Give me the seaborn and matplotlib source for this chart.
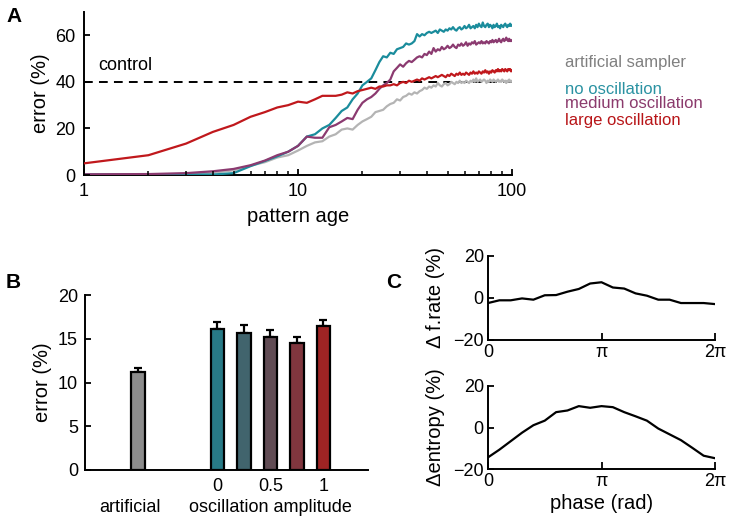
import numpy as np
import pandas as pd
import matplotlib
matplotlib.use("Agg")
import matplotlib.pyplot as plt
import matplotlib.transforms as mtransforms
from matplotlib.ticker import NullFormatter, FixedLocator
import seaborn as sns

sns.set_style("ticks")
plt.rcParams['font.family'] = ['Liberation Sans', 'DejaVu Sans']
plt.rcParams['font.size'] = 12
plt.rcParams['text.color'] = 'black'
plt.rcParams['axes.labelcolor'] = 'black'
plt.rcParams['xtick.labelcolor'] = 'black'
plt.rcParams['ytick.labelcolor'] = 'black'
plt.rcParams['axes.linewidth'] = 1.4
plt.rcParams['axes.axisbelow'] = False
plt.rcParams['axes.edgecolor'] = 'black'

# ---------------- Panel A data ----------------
pattern_age = list(range(1, 101))

no_oscillation = [
    0.2, 0.2, 0.2, 0.2, 0.8, 3.8, 6.0, 8.0, 10.0, 12.5,
    16.5, 17.5, 20.0, 21.5, 24.5, 27.5, 29.0, 32.5, 35.0, 38.5,
    40.0, 41.5, 45.0, 48.5, 51.0, 50.5, 52.5, 52.0, 54.0, 54.5,
    55.0, 56.5, 56.0, 56.5, 57.5, 60.5, 59.5, 60.5, 60.0, 61.0,
    61.5, 61.0, 61.5, 62.0, 61.0, 62.5, 62.0, 61.5, 62.5, 62.0,
    63.0, 62.5, 63.5, 62.5, 62.0, 63.0, 63.5, 62.5, 63.0, 64.0,
    63.0, 63.5, 64.5, 63.0, 63.5, 64.0, 63.0, 64.5, 63.5, 65.0,
    64.0, 63.5, 65.5, 64.0, 63.5, 64.5, 65.0, 63.5, 64.5, 64.0,
    63.0, 64.5, 63.5, 64.0, 65.0, 63.5, 64.0, 63.0, 64.5, 64.0,
    63.5, 64.5, 65.0, 64.0, 63.5, 64.5, 64.0, 65.0, 64.0, 64.5]

medium_oscillation = [
    0.3, 0.4, 0.8, 1.6, 2.6, 4.2, 6.2, 8.5, 10.0, 12.5,
    16.5, 16.0, 16.0, 20.5, 21.5, 23.0, 24.5, 24.0, 28.0, 31.0,
    32.5, 33.5, 35.0, 37.0, 38.5, 39.5, 41.0, 44.5, 46.0, 47.5,
    46.5, 48.0, 49.0, 48.5, 49.5, 50.5, 51.0, 50.5, 52.0, 51.5,
    53.0, 52.0, 54.5, 53.0, 54.0, 53.5, 55.0, 54.0, 54.5, 55.5,
    54.5, 55.0, 56.0, 55.0, 54.5, 56.0, 55.5, 56.5, 55.5, 56.0,
    57.0, 55.5, 56.5, 56.0, 57.0, 56.5, 57.5, 56.0, 56.5, 57.0,
    56.5, 57.5, 56.5, 57.0, 56.5, 57.5, 57.0, 56.5, 57.5, 57.0,
    58.0, 57.0, 57.5, 58.0, 57.0, 57.5, 58.5, 57.5, 57.0, 58.0,
    58.5, 57.5, 58.0, 59.0, 58.0, 57.5, 58.5, 57.5, 58.0, 57.5]

large_oscillation = [
    5.0, 8.5, 13.5, 18.5, 21.5, 25.0, 27.0, 29.0, 30.0, 31.5,
    31.0, 32.5, 34.0, 34.0, 34.0, 34.5, 35.5, 35.0, 36.0, 36.5,
    37.0, 37.5, 37.0, 38.0, 38.0, 38.5, 38.5, 39.0, 38.5, 39.5,
    40.0, 39.5, 40.5, 40.0, 40.5, 41.0, 40.5, 41.5, 41.0, 41.5,
    42.0, 41.5, 42.0, 42.5, 42.0, 42.5, 43.0, 42.5, 42.0, 43.0,
    42.5, 43.5, 43.0, 42.5, 43.5, 43.0, 44.0, 43.0, 43.5, 43.0,
    44.0, 43.5, 43.0, 44.0, 43.5, 44.5, 43.5, 44.0, 43.5, 44.5,
    44.0, 43.5, 44.5, 44.0, 45.0, 44.0, 44.5, 43.5, 44.5, 44.0,
    45.0, 44.5, 44.0, 45.0, 44.5, 45.5, 44.5, 45.0, 44.5, 45.5,
    45.0, 44.5, 45.5, 45.0, 44.5, 45.5, 45.0, 45.5, 44.5, 45.0]

artificial_sampler = [
    0.1, 0.2, 0.5, 1.0, 2.0, 4.0, 5.5, 7.5, 8.5, 10.5,
    12.5, 14.0, 14.5, 16.5, 17.5, 19.5, 20.0, 19.5, 21.5, 23.0,
    24.0, 25.0, 27.0, 27.5, 28.0, 29.5, 30.5, 31.0, 32.5, 32.0,
    33.5, 34.0, 35.0, 34.5, 35.5, 35.0, 36.0, 36.5, 37.5, 37.0,
    38.0, 37.5, 38.5, 38.0, 39.5, 38.5, 38.0, 39.0, 39.5, 38.5,
    39.0, 40.0, 39.5, 39.0, 40.0, 39.5, 40.5, 39.5, 40.0, 39.5,
    40.5, 40.0, 39.5, 40.5, 40.0, 41.0, 40.0, 41.5, 40.0, 40.5,
    41.0, 40.0, 40.5, 41.0, 40.5, 39.5, 40.5, 40.0, 41.0, 40.5,
    40.0, 41.0, 40.5, 40.0, 40.5, 41.0, 40.0, 40.5, 40.0, 41.0,
    40.5, 40.0, 40.5, 39.5, 40.5, 40.0, 41.0, 40.0, 40.5, 40.0]

control_level = 40
age_ticks = [1, 10, 100]
minor_age_ticks = [2, 3, 4, 5, 6, 7, 8, 9, 20, 30, 40, 50, 60, 70, 80, 90]
errA_ticks = [0, 20, 40, 60]

# ---------------- Panel B data ----------------
bar_labels = ["artificial", "0", "0.25", "0.5", "0.75", "1"]
bar_pos = [-0.75, 0.0, 0.25, 0.5, 0.75, 1.0]
bar_values = [11.2, 16.1, 15.7, 15.2, 14.5, 16.5]
bar_errors = [0.5, 0.8, 0.85, 0.8, 0.75, 0.65]
bar_colors = ["#8c8c8c", "#188696", "#3a6874", "#644854", "#8c2a34", "#b21010"]
errB_ticks = [0, 5, 10, 15, 20]

# ---------------- Panel C data ----------------
phase_idx = list(range(21))  # phase = idx * 2*pi/20
frate_change = [-2.4, -1.1, -1.1, -0.2, -0.8, 1.3, 1.4, 3.0, 4.3, 6.9, 7.5,
                5.0, 4.5, 2.2, 1.1, -0.8, -0.8, -2.4, -2.4, -2.4, -2.9]
entropy_change = [-14.4, -10.7, -6.6, -2.5, 1.1, 3.3, 7.4, 8.2, 10.3, 9.5, 10.3,
                  9.8, 7.4, 5.4, 3.3, -0.5, -3.3, -6.1, -9.8, -13.6, -14.8]
phase_ticks = [0, np.pi, 2 * np.pi]
delta_ticks = [-20, 0, 20]

line_colors = {"artificial sampler": "#b4b4b4", "no oscillation": "#1a8c9c",
               "medium oscillation": "#8b3a70", "large oscillation": "#c0181c"}
text_colors = {"artificial sampler": "#808080", "no oscillation": "#2a92a2",
               "medium oscillation": "#8b3a6c", "large oscillation": "#b81518"}

TICK_FS = 13
LABEL_FS = 14.5

W, H = 730, 523
fig = plt.figure(figsize=(W / 100, H / 100), dpi=100)

def fbox(l, t, r, b):
    return [l / W, 1 - b / H, (r - l) / W, (b - t) / H]

def inward_ticks(ax, xt, yt, xlen_px, ylen_px, wpx, xminor=None, minor_len_px=4):
    """Draw inward tick marks explicitly (axes-fraction lengths)."""
    bbox = ax.get_position()
    ax_w = bbox.width * W
    ax_h = bbox.height * H
    tx = mtransforms.blended_transform_factory(ax.transData, ax.transAxes)
    ty = mtransforms.blended_transform_factory(ax.transAxes, ax.transData)
    if xt:
        ax.vlines(xt, 0, xlen_px / ax_h, transform=tx, colors="black",
                  linewidth=wpx, clip_on=False, zorder=6)
    if xminor:
        ax.vlines(xminor, 0, minor_len_px / ax_h, transform=tx, colors="black",
                  linewidth=wpx * 0.85, clip_on=False, zorder=6)
    if yt:
        ax.hlines(yt, 0, ylen_px / ax_w, transform=ty, colors="black",
                  linewidth=wpx, clip_on=False, zorder=6)
    ax.tick_params(axis="both", which="both", length=0, labelsize=TICK_FS,
                   labelcolor="black")

# ---------------- Panel A ----------------
axA = fig.add_axes(fbox(84, 12, 512, 175))
dfA = pd.DataFrame({
    "age": pattern_age * 4,
    "error": artificial_sampler + no_oscillation + medium_oscillation + large_oscillation,
    "series": (["artificial sampler"] * 100 + ["no oscillation"] * 100 +
               ["medium oscillation"] * 100 + ["large oscillation"] * 100),
})
axA.axhline(control_level, color="black", ls=(0, (4.5, 3.2)), lw=1.4, zorder=1)
sns.lineplot(data=dfA, x="age", y="error", hue="series", palette=line_colors,
             hue_order=["artificial sampler", "no oscillation", "medium oscillation", "large oscillation"],
             lw=1.6, ax=axA, legend=False, zorder=3)
axA.set_xscale("log")
axA.set_xlim(1, 100)
axA.set_ylim(0, 70)
axA.set_yticks(errA_ticks)
axA.set_xticks(age_ticks)
axA.set_xticklabels([str(a) for a in age_ticks])
axA.xaxis.set_minor_locator(FixedLocator(minor_age_ticks))
axA.xaxis.set_minor_formatter(NullFormatter())
sns.despine(ax=axA)
inward_ticks(axA, age_ticks, errA_ticks, 6, 6, 1.3, xminor=minor_age_ticks, minor_len_px=4)
axA.tick_params(axis="both", which="major", pad=6)
axA.set_xlabel("pattern age", fontsize=LABEL_FS, labelpad=5)
axA.set_ylabel("error (%)", fontsize=LABEL_FS, labelpad=4)
axA.text(1.16, 47, "control", fontsize=13, va="center", ha="left")
for name, y in [("artificial sampler", 63), ("no oscillation", 89),
                ("medium oscillation", 104), ("large oscillation", 120)]:
    fig.text(565 / W, 1 - y / H, name, color=text_colors[name], fontsize=12,
             va="center", ha="left")

# ---------------- Panel B ----------------
axB = fig.add_axes(fbox(85, 295, 368, 470))
dfB = pd.DataFrame({"pos": bar_pos, "val": bar_values, "lab": bar_labels})
sns.barplot(data=dfB, x="pos", y="val", hue="lab", palette=dict(zip(bar_labels, bar_colors)),
            native_scale=True, dodge=False, width=0.5, errorbar=None,
            edgecolor="black", linewidth=1.6, legend=False, ax=axB, zorder=2)
axB.errorbar(bar_pos, bar_values, yerr=[np.zeros(len(bar_errors)), bar_errors],
             fmt="none", ecolor="black", elinewidth=1.6, capsize=3, capthick=1.6, zorder=1)
axB.set_xlim(-1.25, 1.42)
axB.set_ylim(0, 20)
axB.set_yticks(errB_ticks)
axB.set_xticks([0, 0.5, 1])
axB.set_xticklabels(["0", "0.5", "1"])
sns.despine(ax=axB)
inward_ticks(axB, None, errB_ticks, 6, 6, 1.3)
axB.tick_params(axis="x", pad=6)
axB.tick_params(axis="y", pad=5)
axB.set_xlabel("")
axB.set_ylabel("error (%)", fontsize=LABEL_FS, labelpad=4)
fig.text(130 / W, 1 - 507 / H, "artificial", fontsize=13, ha="center", va="center")
fig.text(270 / W, 1 - 507 / H, "oscillation amplitude", fontsize=13, ha="center", va="center")

# ---------------- Panel C ----------------
phase = [i * 2 * np.pi / 20 for i in phase_idx]
axC1 = fig.add_axes(fbox(488, 256, 715, 340))
axC2 = fig.add_axes(fbox(488, 386, 715, 469))
for ax, vals, lab in [(axC1, frate_change, "Δ f.rate (%)"), (axC2, entropy_change, "Δentropy (%)")]:
    sns.lineplot(x=phase, y=vals, color="black", lw=1.6, ax=ax)
    ax.set_xlim(0, 2 * np.pi)
    ax.set_ylim(-20, 20)
    ax.set_yticks(delta_ticks)
    ax.set_yticklabels(["\u221220", "0", "20"])
    ax.set_xticks(phase_ticks)
    ax.set_xticklabels(["0", "π", "2π"])
    sns.despine(ax=ax)
    inward_ticks(ax, phase_ticks, delta_ticks, 7, 6, 1.3)
    ax.tick_params(axis="both", pad=3)
    ax.set_ylabel(lab, fontsize=LABEL_FS, labelpad=6)
axC2.set_xlabel("phase (rad)", fontsize=LABEL_FS, labelpad=3)

# panel letters
fig.text(6 / W, 1 - 16 / H, "A", fontsize=15, fontweight="bold", va="center", ha="left")
fig.text(6 / W, 1 - 283 / H, "B", fontsize=15, fontweight="bold", va="center", ha="left")
fig.text(386 / W, 1 - 283 / H, "C", fontsize=15, fontweight="bold", va="center", ha="left")

fig.savefig("out.png", dpi=100)
